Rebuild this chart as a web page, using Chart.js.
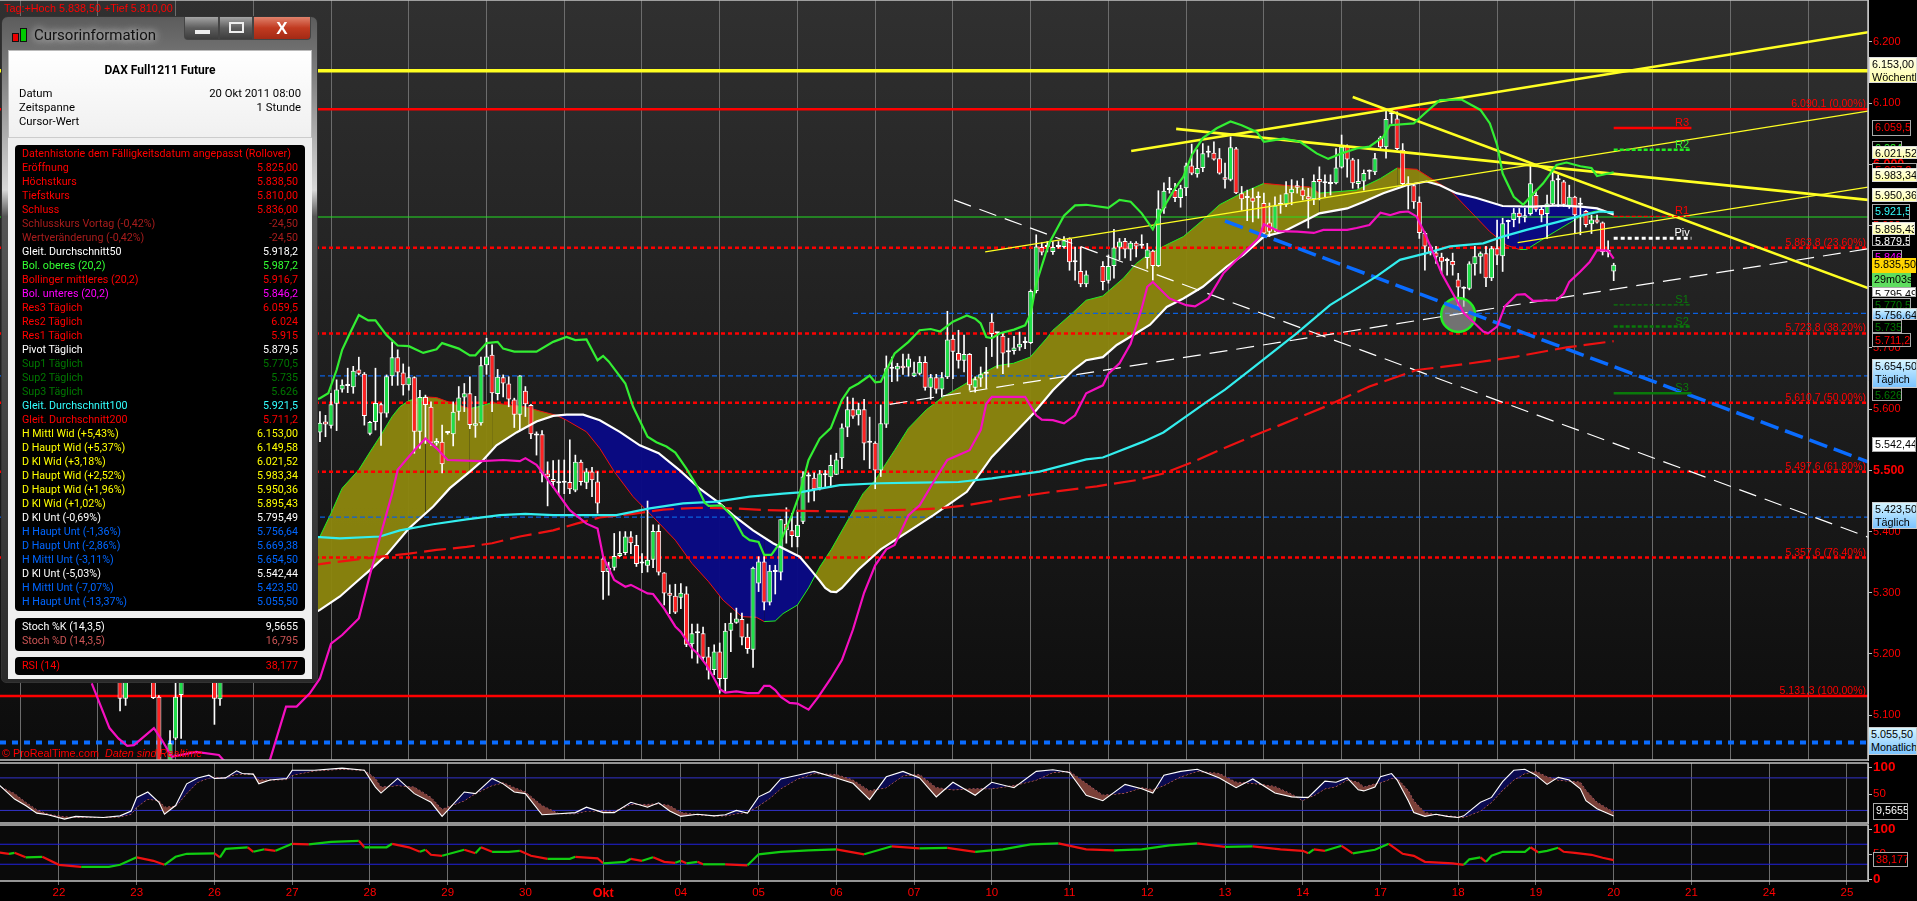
<!DOCTYPE html>
<html lang="de">
<head>
<meta charset="utf-8">
<title>DAX Full1211 Future</title>
<script src="https://cdn.jsdelivr.net/npm/chart.js@4/dist/chart.umd.js"></script>
<style>
    html, body { margin: 0; padding: 0; background: #000; overflow: hidden; }
    #stage { position: relative; width: 1917px; height: 901px; overflow: hidden; font-family: "Liberation Sans", Arial, sans-serif; }
    canvas { position: absolute; left: 0; }
    #mainChart { top: 0; }
    #stochChart { top: 755px; }
    #rsiChart { top: 820px; }
    .note { position: absolute; color: #f00; font-size: 10.8px; white-space: nowrap; }
    .tag { position: absolute; left: 1872px; box-sizing: border-box; padding-left: 2px; font-size: 10.8px; line-height: 13px; white-space: nowrap; overflow: hidden; color: #000; }
    .tag.dark { background: #000; border: 1px solid #aaa; }
    .tag.pale { background: linear-gradient(#ffffe6, #ffffa8); border: 1px solid #ddd; }
    .tag.sky { background: linear-gradient(#d4f4ff, #7cc4ff); border: 1px solid #ccc; }
    .tag.white { background: #fff; border: 1px solid #aaa; }
    .tag.gold { background: #ffd400; }
    .tag.timer { background: #5fdd5f; }
    #win { position: absolute; left: 1px; top: 16px; width: 317px; height: 667px; border-radius: 7px 7px 5px 5px; border: 1px solid #333; box-sizing: border-box;
           background: linear-gradient(#5c5c5c 0, #7c7c7c 8%, #d8d8d8 26%, #555 30%, #2a2a2a 100%); font-family: Roboto, sans-serif; font-size: 10.7px; }
    #win .abs { position: absolute; white-space: nowrap; }
    #winTitle { left: 32px; top: 9px; font-size: 15px; color: #111; text-shadow: 0 0 7px #ccc, 0 0 9px #ccc; }
    .btn { position: absolute; top: 0; height: 23px; border: 1px solid #444; border-top: 0; box-sizing: border-box; background: linear-gradient(#a5a5a5, #5d5d5d 50%, #3d3d3d); }
    #btnMin { left: 182px; width: 35px; border-radius: 0 0 0 4px; }
    #btnMin i { position: absolute; left: 10px; top: 13px; width: 15px; height: 4px; background: #eee; }
    #btnMax { left: 217px; width: 34px; }
    #btnMax i { position: absolute; left: 9px; top: 5px; width: 11px; height: 7px; border: 2px solid #eee; }
    #btnClose { left: 251px; width: 58px; border-radius: 0 0 4px 0; background: linear-gradient(#e0826c, #c13a20 50%, #a32a15); color: #fff; text-align: center; font: bold 17px/23px "Liberation Sans"; }
    #winHead { position: absolute; left: 6px; top: 33px; width: 304px; height: 88px; background: linear-gradient(#fff, #f0f0f0); border: 1px solid #bbb; border-bottom: 1px solid #ccc; box-sizing: border-box; color: #000; font-size: 11.3px; }
    #winBody { position: absolute; left: 6px; top: 121px; width: 304px; height: 541px; background: #efefef; }
    .panel { position: absolute; left: 7px; width: 290px; background: #000; border-radius: 4px; }
    .row { position: absolute; left: 7px; width: 276px; height: 14px; line-height: 14px; white-space: nowrap; }
    .row span { position: absolute; right: 0; }
    .candleIcon { position: absolute; width: 5px; border: 1px solid #111; }
</style>
</head>
<body>
<div id="stage">
    <canvas id="mainChart" width="1917" height="762"></canvas>
    <canvas id="stochChart" width="1917" height="72"></canvas>
    <canvas id="rsiChart" width="1917" height="81"></canvas>
    <div class="note" style="left:4px;top:2px">Tag:+Hoch 5.838,50 +Tief 5.810,00</div>
    <div class="note" style="left:2px;top:747px">© ProRealTime.com&nbsp; <i>Daten sind Realtime</i></div>
    <div id="tags"></div>
    <div id="win"></div>
</div>
<script>
// x positions are hourly bar numbers, 14 bars per trading day, bar 0 = 22 Sep 08:00
const dayLabels = ['22', '23', '26', '27', '28', '29', '30', 'Okt', '04', '05', '06', '07', '10', '11', '12', '13', '14', '17', '18', '19', '20', '21', '24', '25'];
const barsPerDay = 14;
const firstBar = 47;

const priceTicks = [6200, 6100, 6000, 5900, 5800, 5700, 5600, 5500, 5400, 5300, 5200, 5100];
const boldPriceTicks = [6000, 5500];

// candles from bar 47 to bar 280
const opens = [5562,5580,5573,5609,5632,5640,5636,5665,5658,5560,
    5579,5608,5593,5654,5685,5660,5639,5652,5563,5620,
    5604,5544,5547,5561,5559,5596,5619,5626,5573,5577,
    5672,5689,5625,5652,5642,5616,5591,5630,5607,5560,
    5559,5495,5486,5482,5480,5481,5467,5514,5480,5498,
    5482,5356,5334,5341,5360,5365,5392,5378,5348,5344,
    5354,5401,5333,5300,5295,5292,5299,5216,5234,5234,
    5196,5174,5204,5159,5238,5251,5257,5228,5207,5315,
    5351,5284,5334,5333,5413,5402,5391,5416,5490,5488,
    5471,5494,5489,5493,5520,5570,5600,5590,5600,5545,
    5545,5500,5575,5666,5665,5671,5668,5654,5658,5677,
    5635,5652,5632,5652,5715,5692,5679,5690,5635,5650,
    5658,5743,5724,5720,5695,5695,5701,5708,5708,5793,
    5865,5865,5857,5865,5865,5879,5840,5826,5804,null,
    null,5834,5810,5834,5864,5875,5861,5872,5868,5847,
    5859,5834,5928,5958,5958,5945,5961,5998,5984,5994,
    6019,6019,6010,5979,5975,6026,5953,5945,5946,5945,
    5937,5905,5893,5934,5934,5953,5966,5959,5948,5943,
    5976,5972,5968,5969,5995,6030,6008,5968,5972,5988,
    5987,6044,6028,6082,6075,6024,5966,5966,5939,5888,
    5866,5856,5849,5842,5842,5812,5797,5797,5837,5849,
    5855,5814,5863,5850,5906,5909,5921,5913,5919,5950,
    5927,5919,5935,5974,5972,5930,5947,5934,5924,5902,
    5910,5905,5857,5825];
const highs = [5596,5590,5626,5648,5648,5667,5670,5685,5660,5580,
    5667,5610,5656,5710,5697,5674,5669,5653,5631,5623,
    5612,5552,5574,5562,5612,5637,5642,5653,5621,5685,
    5716,5705,5665,5656,5653,5618,5655,5637,5608,5563,
    5565,5514,5516,5517,5517,5550,5525,5517,5503,5505,
    5498,5359,5350,5397,5400,5400,5400,5394,5364,5450,
    5411,5411,5333,5313,5314,5315,5310,5249,5249,5244,
    5211,5215,5218,5250,5267,5275,5267,5249,5342,5359,
    5359,5345,5345,5420,5439,5430,5435,5498,5496,5496,
    5500,5500,5525,5528,5576,5620,5618,5610,5616,5587,
    5547,5607,5687,5685,5675,5690,5690,5677,5686,5686,
    5657,5657,5660,5760,5721,5729,5721,5691,5653,5669,
    5701,5756,5724,5724,5716,5719,5726,5718,5795,5885,
    5872,5874,5874,5874,5882,5880,5865,5865,5826,null,
    null,5841,5852,5894,5879,5879,5874,5874,5885,5871,
    5860,5957,5970,5979,5969,5966,6002,6033,6024,6034,
    6030,6037,6026,6002,6045,6028,5964,5958,5961,5955,
    5953,5937,5947,5950,5972,5975,5973,5977,5961,5983,
    5996,5983,5983,6026,6048,6032,6010,6008,5991,5991,
    6018,6046,6088,6090,6086,6034,5980,5969,5947,5890,
    5868,5866,5855,5847,5855,5822,5800,5841,5866,5857,
    5866,5866,5909,5912,5909,5928,5928,5928,5997,5958,
    5931,5950,5991,5983,5974,5966,5948,5945,5925,5917,
    5917,5906,5875,5838.5];
const lows = [5547,5555,5569,5565,5628,5627,5626,5656,5574,5558,
    5566,5541,5587,5639,5639,5623,5631,5528,5536,5544,
    5541,5541,5496,5559,5540,5582,5596,5568,5554,5574,
    5657,5596,5615,5620,5604,5570,5565,5588,5552,5525,
    5481,5442,5472,5462,5462,5462,5465,5476,5470,5457,
    5430,5289,5296,5337,5359,5362,5364,5343,5333,5334,
    5341,5329,5280,5266,5266,5274,5212,5193,5185,5190,
    5159,5166,5136,5139,5204,5250,5215,5201,5178,5302,
    5272,5280,5298,5321,5381,5375,5375,5413,5448,5450,
    5468,5473,5473,5493,5503,5555,5585,5574,5517,5503,
    5470,5490,5570,5645,5646,5657,5654,5653,5656,5631,
    5616,5626,5620,5650,5650,5667,5661,5631,5628,5637,
    5634,5686,5667,5658,5669,5690,5696,5699,5707,5790,
    5852,5857,5853,5863,5863,5827,5811,5800,5800,null,
    null,5795,5806,5814,5844,5847,5843,5849,5863,5830,
    5811,5833,5920,5953,5939,5930,5949,5983,5979,5988,
    6012,6007,5984,5961,5973,5952,5925,5908,5906,5912,
    5882,5882,5890,5920,5931,5934,5953,5942,5896,5934,
    5942,5947,5950,5968,5994,5979,5961,5961,5958,5976,
    5983,6026,6010,6067,6024,5966,5927,5928,5879,5827,
    5852,5838,5822,5819,5819,5768,5768,5795,5819,5822,
    5800,5810,5836,5825,5879,5898,5904,5906,5917,5923,
    5906,5879,5934,5931,5931,5928,5887,5885,5898,5887,
    5904,5852,5849,5810];
const closes = [5578,5575,5608,5632,5640,5638,5663,5658,5589,5579,
    5610,5593,5654,5685,5660,5639,5652,5563,5620,5607,
    5545,5548,5510,5562,5596,5619,5626,5574,5577,5672,
    5686,5626,5653,5642,5616,5591,5655,5608,5559,5557,
    5495,5489,5481,5479,5480,5469,5514,5481,5498,5484,
    5446,5334,5341,5360,5365,5392,5381,5347,5348,5354,
    5401,5333,5299,5295,5268,5300,5215,5234,5234,5194,
    5173,5204,5159,5238,5251,5258,5227,5208,5341,5351,
    5284,5336,5334,5420,5402,5393,5411,5490,5490,5469,
    5495,5492,5509,5518,5570,5600,5588,5600,5544,5545,
    5500,5577,5667,5667,5671,5667,5683,5660,5677,5635,
    5652,5632,5652,5714,5694,5679,5690,5639,5649,5657,
    5658,5723,5724,5691,5693,5701,5707,5708,5793,5866,
    5856,5865,5865,5865,5876,5840,5840,5804,5820,null,
    null,5808,5834,5864,5874,5861,5872,5866,5867,5861,
    5834,5928,5957,5958,5945,5961,5998,5985,5994,6018,
    6019,6008,5985,5975,6028,5953,5943,5945,5939,5945,
    5887,5890,5933,5934,5953,5960,5962,5948,5943,5973,
    5971,5969,5968,5995,6029,6008,5969,5973,5986,5988,
    6010,6028,6074,6082,6025,5968,5966,5938,5888,5866,
    5855,5849,5841,5842,5835,5799,5797,5838,5850,5855,
    5814,5863,5851,5904,5906,5921,5914,5917,5969,5926,
    5917,5936,5974,5974,5934,5947,5917,5934,5901,5910,
    5905,5857,5860,5836];

// the few candles that show under the cursor window
const earlyBars = [11, 12, 17, 18, 20, 21, 22, 28, 29];
const earlyOpens = [5170, 5127, 5170, 5130, 5000, 5062, 5133, 5170, 5126];
const earlyHighs = [5180, 5180, 5180, 5132, 5075, 5180, 5180, 5180, 5180];
const earlyLows = [5107, 5116, 5127, 4990, 5000, 5060, 5062, 5085, 5116];
const earlyCloses = [5127, 5170, 5128, 5000, 5054, 5130, 5170, 5127, 5170];

const upperBars = [45,47,48.5,50,51,52.4,54,55.7,57,59,61,63,65.6,68,69,72,74,75,77,79,80,82,86,89,91.4,93,95,97,98,99,102,103.4,106,107.6,109.4,111,113,114.8,116.3,117,119.3,121.4,123.2,124.4,126,127,128.3,129.8,132,133.4,135,137,139,141,142.4,144,146,147,148,150.5,153,155,157,158.7,161,163.5,165,166,167,168,169.5,172,174,175,176,177.9,178.5,181,183,185,189,191,193,195,197,198.3,201,202.5,204,206,208.5,211,213,215.7,217,220.5,223.5,226.5,228.6,231,233.7,236,238.5,239.7,244,246.3,248.7,252.6,256,257.7,259,260,262,263.7,265,267.3,269.7,271.5,274,276,277,280];
const upperBand = [5612,5618,5626,5664,5697,5724,5754,5745,5745,5721,5704,5703,5692,5698,5708,5699,5688,5688,5708,5710,5699,5694,5694,5710,5718,5713,5714,5680,5687,5678,5642,5604,5555,5546,5539,5529,5503,5476,5447,5442,5443,5424,5394,5386,5383,5362,5362,5381,5427,5462,5517,5552,5569,5615,5634,5642,5655,5644,5645,5691,5710,5729,5731,5727,5743,5753,5748,5740,5718,5716,5724,5730,5737,5756,5805,5860,5874,5916,5933,5934,5929,5942,5939,5920,5894,5920,5961,5980,6015,6043,6059,6070,6064,6053,6037,6042,6037,6018,6009,6018,6026,6029,6045,6064,6067,6086,6105,6106,6089,6067,6032,5985,5947,5934,5947,5969,5999,6003,5997,5994,5981,5987.2];

const lowerBars = [5.9,9.1,10.7,12.3,13.5,17.1,18.7,20.3,24.7,28.8,29.6,33,38,40.9,42.8,45.2,47,49,51,54,56,58,60,61,64,66,68,70,76,80,83,84,86,89,92,95,97,98,100,102,103,106,107,109,111,112,114,115,116.6,118,119,120,122,124,126,127,128,129,130,131.6,133,135,136.7,139,141,143,145,147,149,150.5,153,155,157.5,160,164,166,167,168,174,176,177,179,181,183,185,188,189,191,193,195,196,197,200,203,204.6,207,209.7,213.3,216,217,219.6,223,226,227.7,232,233.7,236,238,239.7,241.5,243,244.5,246,247.5,249,252,253,255,256.5,257.4,259,260.4,262.5,264,265.5,269.7,271,272,274,275.7,277,279,280];
const lowerBand = [5152,5079,5062,5050,5051,5079,5057,5032,5040,5035,5027,5000,5027,5114,5114,5136,5160,5217,5231,5258,5329,5397,5462,5501,5533,5552,5536,5517,5515,5517,5515,5520,5509,5473,5435,5413,5405,5359,5321,5310,5313,5299,5298,5274,5245,5236,5209,5201,5182,5160,5143,5137,5139,5136,5136,5148,5148,5141,5130,5120,5119,5109,5129,5160,5190,5240,5300,5345,5371,5378,5427,5443,5481,5517,5533,5566,5609,5620,5620,5590,5583,5582,5577,5590,5626,5639,5658,5675,5707,5765,5800,5808,5781,5770,5768,5781,5822,5855,5879,5902,5891,5890,5888,5893,5893,5896,5901,5921,5917,5922,5923,5915,5887,5855,5822,5773,5757,5740,5727,5724,5735,5768,5787,5788,5777,5778,5789,5808,5825,5841,5860,5859,5846.2];

const ma50Bars = [45,47,50.6,53.6,56,59,63,67.4,70.4,74,76.4,78.8,82.4,86,89,91.4,94.4,97.4,101,104.6,108,111.8,115.4,119,121.4,125,128.6,133.4,135,137,138,139,140,141,144,148,157.5,163.5,168,175.5,179,182.7,185,188,190.5,194,196.5,199.5,202.5,206,210.3,213.3,217,220.5,225.3,227,232,235,238.5,242.7,246.3,248.7,251.7,255.3,260,265.5,270,274,277,280];
const ma50 = [5262,5272,5294,5318,5337,5362,5405,5441,5471,5498,5517,5541,5562,5580,5589,5591,5591,5582,5563,5541,5528,5500,5470,5446,5427,5402,5381,5359,5342,5320,5308,5302,5301,5308,5338,5371,5427,5465,5522,5593,5631,5664,5680,5685,5705,5724,5738,5767,5781,5800,5833,5852,5882,5890,5912,5920,5928,5939,5953,5966,5972,5966,5953,5945,5932,5931,5933,5931,5928,5918.2];

const midBars = [45,47,49,51,54,56,58,60,61.4,63,66,68,70.4,74,76,78,81,84,86.6,89.6,91.4,95,97.4,100,103.4,107,111,114,117,119.6,123,125.6,127,129,130.4,133,135,137,139.1,144.8,147,150.5,153,156.2,159.2,162.8,165.8,168.9,171.9,174.9,177.9,179,182.4,185,188,191.7,194,196.5,200,202.5,206,209,213,217,221.7,225.3,227,233.7,238,241,244.5,248,250.5,254,257.7,260.7,263,264.3,268.5,272,275,278,280];
const midBand = [5380,5392,5430,5471,5501,5530,5558,5588,5604,5614,5620,5619,5611,5601,5605,5611,5607,5604,5597,5590,5582,5563,5536,5498,5457,5424,5386,5348,5318,5288,5261,5260,5253,5254,5266,5280,5308,5342,5371,5462,5484,5533,5569,5599,5620,5639,5656,5671,5675,5685,5716,5729,5756,5778,5785,5814,5838,5855,5871,5882,5909,5934,5953,5969,5965,5963,5953,5958,5977,5994,5992,5972,5958,5925,5890,5868,5861,5861,5885,5904,5920,5926,5916.7];

const ma100Bars = [45,47,50.6,57.8,61.4,67.4,73.4,79.4,84,89,100.4,106.4,112.4,118.4,124.4,130.4,133.4,140.6,147.8,155,162,168,176.6,185,188,195.3,198.9,202.5,206.7,210,214.5,222.9,228.9,237.3,241.5,246.3,250.5,256.5,260,264.3,270,274.5,277.5,280];
const ma100 = [5391,5391,5389,5392,5402,5412,5420,5427,5429,5427,5427,5438,5446,5449,5457,5462,5464,5476,5479,5480,5481,5487,5498,5518,5521,5547,5562,5585,5612,5632,5664,5724,5770,5817,5844,5855,5866,5871,5882,5893,5906,5917,5923,5921.5];

const ma200Bars = [45,47,52.4,57.8,63,68,73.4,78,83,89,93.2,97.4,103.4,108.8,115.4,121.4,127.4,133.4,141.8,153.9,158.6,163.4,171.9,179,186.9,194,198.9,204.3,209,213.9,219.9,228,236,244.5,253.5,262.5,271.5,280];
const ma200 = [5346,5347,5353,5359,5364,5370,5375,5381,5392,5402,5413,5423,5429,5436,5439,5438,5435,5434,5433,5436,5438,5443,5456,5465,5474,5484,5495,5514,5533,5552,5574,5604,5637,5664,5674,5686,5701,5711.2];

// horizontal levels
const fibLevels = [5863.8, 5723.8, 5610.7, 5497.6, 5357.6];
const fibSolid = [6090.1, 5131.3];
const fibTexts = ['6.090,1 (0,00%)', '5.863,8 (23,60%)', '5.723,8 (38,20%)', '5.610,7 (50,00%)', '5.497,6 (61,80%)', '5.357,6 (76,40%)', '5.131,3 (100,00%)'];
const fibTextLevels = [6090.1, 5863.8, 5723.8, 5610.7, 5497.6, 5357.6, 5131.3];
const weeklyLevel = 6153;
const res1Line = 5914;
const monthlyLevel = 5055.5;
const blueLevels = [5654.5, 5423.5];
const blueShortLevel = 5756.64;
const blueShortFrom = 143;

const pivotNames = ['R3', 'R2', 'R1', 'Piv', 'S1', 'S2', 'S3'];
const pivotLevels = [6059.5, 6024, 5915, 5879.5, 5770.5, 5735, 5626];

// trend lines as [bar, price] pairs
const yellowThick = [[[193.1, 6022], [325.8, 6216]], [[201.2, 6058], [325.8, 5942]], [[233, 6110], [325.8, 5798]]];
const yellowThin = [[[166.8, 5857], [325.8, 6087]], [[262.7, 5872], [325.8, 5963]]];
const whiteDashed = [[[161.2, 5942], [325.8, 5391]], [[149.6, 5608], [325.8, 5862]]];
const blueDashed = [[210, 5907.5], [325.8, 5514]];
const marker = [[252, 5754]];

const stochBars = [-11,-8,-6,-4,-2,1,3,8,11,13,14,16,18,19,21,23,25,27,28,30,32,33,35,36,38,41,42,46,51,55,57,58,61,64,67,69,73,75,78,80,82,84,87,90,93,95,98,100,103,106,108,110,112,115,118,120,122,124,126,128,130,133,136,140,143,146,149,152,155,158,161,165,168,172,176,179,182,185,188,192,195,197,199,202,205,209,212,215,219,222,224,225,226,228,230,232,234,235,237,238,240,241,243,244,246,248,250,252,253,256,258,260,262,264,266,268,270,272,274,275,277,280];
const stochK = [69,41,29,15,12,4,9,7,10,19,44,54,35,13,29,69,80,85,79,80,93,88,87,69,76,79,94,94,98,94,63,52,79,51,35,9,54,51,79,69,54,51,12,14,16,26,16,16,35,26,34,19,9,13,10,12,20,15,45,55,78,85,92,80,70,40,82,92,80,45,72,48,72,62,92,95,90,48,38,68,60,52,85,92,96,80,62,78,52,45,44,44,54,74,72,80,58,56,63,82,88,76,38,16,9,13,9,7,10,35,44,73,94,96,85,68,81,76,60,38,23,9.57];
const stochD = [66,51,35,21,13,8,7,7,8,13,26,41,38,26,27,51,72,80,81,80,87,87,87,76,76,77,85,93,96,94,79,63,66,63,44,22,38,51,66,71,62,54,29,14,14,19,19,18,31,31,32,29,16,12,10,10,14,16,28,42,60,78,88,86,76,56,62,84,86,62,58,60,60,66,76,90,92,70,48,52,62,58,66,82,92,88,72,70,64,50,38,44,47,60,64,76,72,63,69,71,79,79,57,38,16,12,10,8,7,19,35,57,76,88,92,82,76,74,72,57,35,16.8];

const rsiBars = [-11,-9,-8,-6,-3,0,4,9,11,14,17,19,21,23,28,29,30,34,35,37,39,42,45,49,54,55,59,60,63,65,66,67,69,73,75,76,78,81,83,85,88,92,93,97,98,102,103,105,107,109,111,112,113,115,116,120,124,126,130,135,140,145,150,155,160,165,170,175,180,185,190,195,200,205,210,215,220,224,225,226,228,231,233,237,239.5,242,244,246,251,253,254,256,257,258,260,264,265,266.4,268,270,271,273,276,278,280];
const rsiVals = [54,51,53,44,45,29,25,25,29,44,37,29,45,51,52,44,61,64,55,60,57,71,70,75,77,64,64,71,64,55,59,49,47,59,52,64,55,55,57,47,41,41,45,42,32,35,41,37,44,35,33,37,32,35,30,30,28,50,55,58,60,50,66,62,63,55,60,70,72,60,58,60,68,72,65,66,60,57,52,60,57,67,52,59,71,51,47,35,32,29,40,44,35,47,55,55,64,54,57,63,55,53,49,43,38.2];

const stochTicks = [100, 50];
const stochLines = [80, 20];
const rsiTicks = [100, 50, 0];
const rsiLines = [70, 30];

const cursorRows = [
    ['Datenhistorie dem Fälligkeitsdatum angepasst (Rollover)', '', '#ff0000'],
    ['Eröffnung', '5.825,00', '#ff0000'], ['Höchstkurs', '5.838,50', '#ff0000'], ['Tiefstkurs', '5.810,00', '#ff0000'], ['Schluss', '5.836,00', '#ff0000'],
    ['Schlusskurs Vortag (-0,42%)', '-24,50', '#a81c1c'], ['Wertveränderung (-0,42%)', '-24,50', '#a81c1c'],
    ['Gleit. Durchschnitt50', '5.918,2', '#ffffff'], ['Bol. oberes (20,2)', '5.987,2', '#33ff33'], ['Bollinger mittleres (20,2)', '5.916,7', '#ff0000'], ['Bol. unteres (20,2)', '5.846,2', '#ff00ff'],
    ['Res3 Täglich', '6.059,5', '#ff0000'], ['Res2 Täglich', '6.024', '#ff0000'], ['Res1 Täglich', '5.915', '#ff0000'], ['Pivot Täglich', '5.879,5', '#ffffff'],
    ['Sup1 Täglich', '5.770,5', '#007700'], ['Sup2 Täglich', '5.735', '#007700'], ['Sup3 Täglich', '5.626', '#007700'],
    ['Gleit. Durchschnitt100', '5.921,5', '#33ffff'], ['Gleit. Durchschnitt200', '5.711,2', '#ff0000'],
    ['H Mittl Wid (+5,43%)', '6.153,00', '#ffff00'], ['D Haupt Wid (+5,37%)', '6.149,58', '#ffff00'], ['D Kl Wid (+3,18%)', '6.021,52', '#ffff00'], ['D Haupt Wid (+2,52%)', '5.983,34', '#ffff00'], ['D Haupt Wid (+1,96%)', '5.950,36', '#ffff00'], ['D Kl Wid (+1,02%)', '5.895,43', '#ffff00'],
    ['D Kl Unt (-0,69%)', '5.795,49', '#ffffff'], ['H Haupt Unt (-1,36%)', '5.756,64', '#0066ff'], ['D Haupt Unt (-2,86%)', '5.669,38', '#0066ff'], ['H Mittl Unt (-3,11%)', '5.654,50', '#0066ff'],
    ['D Kl Unt (-5,03%)', '5.542,44', '#ffffff'], ['H Mittl Unt (-7,07%)', '5.423,50', '#0066ff'], ['H Haupt Unt (-13,37%)', '5.055,50', '#0066ff']
];
const stochRows = [['Stoch %K (14,3,5)', '9,5655', '#ffffff'], ['Stoch %D (14,3,5)', '16,795', '#cc5555']];
const rsiRows = [['RSI (14)', '38,177', '#ff0000']];

const priceTags = [
    { t: 141, w: 30, h: 16, c: 'dark', col: '#33ee33', s: '6.024' },
    { t: 163, w: 45, h: 16, c: 'dark', col: '#ff0000', s: '5.987,2' },
    { t: 120, w: 39, h: 16, c: 'dark', col: '#ff0000', s: '6.059,5' },
    { t: 146, w: 45, h: 13, c: 'pale', s: '6.021,52' },
    { t: 168, w: 45, h: 14, c: 'pale', s: '5.983,34' },
    { t: 188, w: 45, h: 14, c: 'pale', s: '5.950,36' },
    { t: 204, w: 38, h: 16, c: 'dark', col: '#33ffff', s: '5.921,5' },
    { t: 234, w: 38, h: 12, c: 'dark', col: '#ffffff', s: '5.879,5' },
    { t: 222, w: 43, h: 13, c: 'pale', s: '5.895,43' },
    { t: 250, w: 30, h: 10, c: 'dark', col: '#ff00ff', s: '5.846' },
    { t: 258, w: 44, h: 15, c: 'gold', s: '5.835,50' },
    { t: 273, w: 39, h: 14, c: 'timer', s: '29m03s' },
    { t: 287, w: 44, h: 10, c: 'white', s: '5.795,49' },
    { t: 298, w: 39, h: 11, c: 'dark', col: '#007700', s: '5.770,5' },
    { t: 308, w: 45, h: 12, c: 'sky', s: '5.756,64' },
    { t: 320, w: 30, h: 13, c: 'dark', col: '#007700', s: '5.735' },
    { t: 333, w: 39, h: 14, c: 'dark', col: '#ff0000', s: '5.711,2' },
    { t: 359, w: 45, h: 29, c: 'sky', s: '5.654,50<br>Täglich' },
    { t: 388, w: 30, h: 13, c: 'dark', col: '#007700', s: '5.626' },
    { t: 437, w: 44, h: 15, c: 'white', s: '5.542,44' },
    { t: 502, w: 45, h: 27, c: 'sky', s: '5.423,50<br>Täglich' },
    { t: 57, l: 1869, w: 48, h: 26, c: 'pale', s: '6.153,00<br>Wöchentlich' },
    { t: 727, l: 1868, w: 49, h: 28, c: 'sky', s: '5.055,50<br>Monatlich' },
    { t: 803, l: 1873, w: 35, h: 17, c: 'dark', col: '#ffffff', s: '9,5655' },
    { t: 852, l: 1873, w: 35, h: 15, c: 'dark', col: '#ff0000', s: '38,177' }
];

const rowHtml = (r, top) => `<div class="row" style="top:${top}px;color:${r[2]}">${r[0]}<span>${r[1]}</span></div>`;

const windowView = () => `
    <div class="candleIcon" style="left:10px;top:16px;height:7px;background:#e00"></div>
    <div class="candleIcon" style="left:18px;top:11px;height:12px;background:#0c0"></div>
    <div id="winTitle" class="abs">Cursorinformation</div>
    <div id="btnMin" class="btn"><i></i></div>
    <div id="btnMax" class="btn"><i></i></div>
    <div id="btnClose" class="btn">X</div>
    <div id="winHead">
        <div class="abs" style="left:0;width:100%;top:12px;text-align:center;font-weight:bold;font-size:12px">DAX Full1211 Future</div>
        <div class="abs" style="left:10px;top:36px">Datum</div><div class="abs" style="right:10px;top:36px">20 Okt 2011 08:00</div>
        <div class="abs" style="left:10px;top:50px">Zeitspanne</div><div class="abs" style="right:10px;top:50px">1 Stunde</div>
        <div class="abs" style="left:10px;top:64px">Cursor-Wert</div>
    </div>
    <div id="winBody">
        <div class="panel" style="top:7px;height:466px">${cursorRows.map((r, i) => rowHtml(r, 2 + i * 14)).join('')}</div>
        <div class="panel" style="top:480px;height:33px">${stochRows.map((r, i) => rowHtml(r, 2 + i * 14)).join('')}</div>
        <div class="panel" style="top:519px;height:18px">${rsiRows.map((r, i) => rowHtml(r, 2 + i * 14)).join('')}</div>
    </div>`;

document.getElementById('win').innerHTML = windowView();
document.getElementById('tags').innerHTML = priceTags.map(g => `
    <div class="tag ${g.c}" style="top:${g.t}px;left:${g.l || 1872}px;width:${g.w}px;height:${g.h}px;color:${g.col || '#000'}">${g.s}</div>`).join('');

// ---- shared options ----
const rightMargin = 49;
const xMin = -10.62;
const xMax = 325.8;
const dayBars = dayLabels.map((d, i) => i * barsPerDay);

const xAxis = (showLabels) => ({
    type: 'linear',
    offset: false,
    min: xMin,
    max: xMax,
    afterBuildTicks: ax => { ax.ticks = dayBars.map(v => ({ value: v })); },
    afterFit: ax => { ax.height = showLabels ? 20 : 0; ax.paddingLeft = 0; ax.paddingRight = 0; },
    border: { display: false },
    grid: { color: '#6c6c6c', lineWidth: 1, drawTicks: showLabels, tickLength: 4 },
    ticks: {
        display: showLabels,
        autoSkip: false,
        maxRotation: 0,
        padding: 1,
        color: '#ff0000',
        font: ctx => ctx.tick && ctx.tick.value === 7 * barsPerDay
            ? { family: 'Liberation Sans', size: 12.5, weight: 'bold' }
            : { family: 'Liberation Sans', size: 11.5 },
        callback: v => dayLabels[v / barsPerDay]
    }
});

const yAxis = (min, max, ticks, fontOf, format) => ({
    position: 'right',
    min,
    max,
    afterBuildTicks: ax => { ax.ticks = ticks.map(v => ({ value: v })); },
    afterFit: ax => { ax.width = rightMargin; ax.paddingTop = 0; ax.paddingBottom = 0; },
    border: { color: '#bbbbbb' },
    grid: { drawOnChartArea: false, color: '#bbbbbb', tickLength: 4 },
    ticks: { color: '#ff0000', padding: 1, autoSkip: false, font: ctx => fontOf(ctx.tick ? ctx.tick.value : 0), callback: format }
});

const panelBackground = (top, bottom) => ({
    id: 'panelBackground',
    beforeDraw(chart) {
        const { ctx, chartArea: a } = chart;
        const g = ctx.createLinearGradient(0, a.top, 0, a.bottom);
        g.addColorStop(0, top);
        g.addColorStop(1, bottom);
        ctx.save();
        ctx.fillStyle = g;
        ctx.fillRect(a.left, a.top, a.right - a.left, a.bottom - a.top);
        ctx.restore();
    },
    afterDraw(chart) {
        const { ctx, chartArea: a } = chart;
        ctx.save();
        ctx.strokeStyle = '#c4c4c4';
        ctx.lineWidth = 1.5;
        ctx.strokeRect(a.left - 2, a.top, a.right - a.left + 2, a.bottom - a.top);
        ctx.restore();
    }
});

const pts = (bars, vals) => bars.map((b, i) => ({ x: b, y: vals[i] }));
const span = pairs => pairs.map(p => ({ x: p[0], y: p[1] }));
const level = (v, from = xMin, to = xMax) => [{ x: from, y: v }, { x: to, y: v }];

const lineSet = (data, color, width, dash, order, extra = {}) => ({
    type: 'line', data, borderColor: color, borderWidth: width, borderDash: dash || [],
    pointRadius: 0, tension: 0, fill: false, order, ...extra
});

const upDown = (up, down) => ({ borderColor: c => c.p1.parsed.y >= c.p0.parsed.y ? up : down });

const baseOptions = (padTop, padBottom, scales) => ({
    responsive: false,
    animation: false,
    devicePixelRatio: 1,
    layout: { autoPadding: false, padding: { top: padTop, bottom: padBottom, left: 0, right: 0 } },
    plugins: { legend: { display: false }, tooltip: { enabled: false } },
    events: [],
    scales
});

// ---- candles ----
const barRows = [];
earlyBars.forEach((b, i) => barRows.push({ b, o: earlyOpens[i], h: earlyHighs[i], l: earlyLows[i], c: earlyCloses[i] }));
opens.forEach((o, i) => {
    if (o !== null) barRows.push({ b: firstBar + i, o, h: highs[i], l: lows[i], c: closes[i] });
});

const wickSet = {
    type: 'bar', grouped: false, barThickness: 1, backgroundColor: '#ffffff', order: 10,
    data: barRows.map(r => ({ x: r.b, y: [r.l, r.h] }))
};
const bodySet = {
    type: 'bar', grouped: false, barThickness: 5, minBarLength: 2, borderWidth: 1, borderColor: '#ffffff', borderSkipped: false, inflateAmount: 0, order: 9,
    backgroundColor: barRows.map(r => r.c >= r.o ? '#1fe04a' : '#ff2222'),
    data: barRows.map(r => ({ x: r.b, y: [r.o, r.c] }))
};

// the price chart labels that sit on the levels
const levelTexts = {
    id: 'levelTexts',
    afterDatasetsDraw(chart) {
        const { ctx, scales: { x, y }, chartArea: a } = chart;
        ctx.save();
        ctx.font = '10.5px "Liberation Sans"';
        ctx.fillStyle = '#ff0000';
        ctx.textAlign = 'right';
        fibTexts.forEach((s, i) => ctx.fillText(s, a.right - 2, y.getPixelForValue(fibTextLevels[i]) - 2));
        ctx.textAlign = 'center';
        const pivotTextColors = ['#ff0000', '#33ee33', '#ff0000', '#ffffff', '#0a7a0a', '#0a7a0a', '#0a7a0a'];
        pivotNames.forEach((s, i) => {
            ctx.fillStyle = pivotTextColors[i];
            ctx.font = '11px "Liberation Sans"';
            ctx.fillText(s, x.getPixelForValue(20.88 * barsPerDay), y.getPixelForValue(pivotLevels[i]) - 2);
        });
        ctx.restore();
    }
};

const pivotFrom = 20 * barsPerDay;
const pivotTo = 21 * barsPerDay;

new Chart(document.getElementById('mainChart'), {
    type: 'bar',
    data: {
        datasets: [
            // dataset 0 fills up to ma50, dataset 1
            lineSet(pts(midBars, midBand), '#ee1111', 1, null, 20, {
                fill: { target: 1, above: 'rgba(139,133,14,0.96)', below: 'rgba(10,10,132,0.98)' },
                segment: upDown('#22ee22', '#ee1111')
            }),
            lineSet(pts(ma50Bars, ma50), '#ffffff', 2.2, null, 6),
            wickSet,
            bodySet,
            lineSet(level(res1Line), '#22dd22', 1.2, null, 13),
            lineSet(level(weeklyLevel), '#ffff22', 3.5, null, 5),
            ...fibSolid.map(v => lineSet(level(v), '#ff0000', 2.5, null, 12)),
            ...fibLevels.map(v => lineSet(level(v), '#ff0000', 2.5, [4, 3], 12)),
            ...blueLevels.map(v => lineSet(level(v), '#0a60e0', 1.2, [5, 3], 12)),
            lineSet(level(blueShortLevel, blueShortFrom), '#0a60e0', 1.2, [5, 3], 12),
            lineSet(level(monthlyLevel), '#0a6cff', 4, [6, 6], 12),
            lineSet(span(marker), 'transparent', 0, null, 7, { pointRadius: 17, pointBackgroundColor: 'rgba(165,165,165,0.62)', pointBorderColor: '#22ee22', pointBorderWidth: 2.5, showLine: false }),
            ...yellowThick.map(t => lineSet(span(t), '#ffff22', 2.6, null, 5)),
            ...yellowThin.map(t => lineSet(span(t), '#ffff22', 1.3, null, 5)),
            ...whiteDashed.map(t => lineSet(span(t), '#ffffff', 1.2, [18, 9], 5)),
            lineSet(span(blueDashed), '#0a6cff', 3.5, [19, 7], 5),
            lineSet(pts(upperBars, upperBand), '#33ee33', 2.2, null, 4),
            lineSet(pts(lowerBars, lowerBand), '#f50fc0', 2.2, null, 4),
            lineSet(pts(ma100Bars, ma100), '#33eeee', 2.2, null, 4),
            lineSet(pts(ma200Bars, ma200), '#ee1111', 2.2, [22, 7], 4),
            lineSet(level(pivotLevels[0], pivotFrom, pivotTo), '#ff0000', 2.5, null, 3),
            lineSet(level(pivotLevels[1], pivotFrom, pivotTo), '#22ee22', 2.5, [4, 2], 3),
            lineSet(level(pivotLevels[2], pivotFrom, pivotTo), '#ff0000', 1.2, [4, 2], 3),
            lineSet(level(pivotLevels[3], pivotFrom, pivotTo), '#ffffff', 3, [4, 3], 3),
            lineSet(level(pivotLevels[4], pivotFrom, pivotTo), '#0a7a0a', 1.2, [4, 2], 3),
            lineSet(level(pivotLevels[5], pivotFrom, pivotTo), '#0a7a0a', 2.5, [4, 2], 3),
            lineSet(level(pivotLevels[6], pivotFrom, pivotTo), '#0a7a0a', 2.5, null, 3)
        ]
    },
    options: baseOptions(0, 2, {
        x: xAxis(false),
        y: yAxis(5026.8, 6268.6, priceTicks,
            v => boldPriceTicks.includes(v) ? { family: 'Liberation Sans', size: 12.5, weight: 'bold' } : { family: 'Liberation Sans', size: 11 },
            v => `${Math.floor(v / 1000)}.${String(v % 1000).padStart(3, '0')}`)
    }),
    plugins: [panelBackground('#303030', '#0c0c0c'), levelTexts]
});

const indicatorFont = v => v === 50
    ? { family: 'Liberation Sans', size: 11.5 }
    : { family: 'Liberation Sans', size: 13.5, weight: 'bold' };

new Chart(document.getElementById('stochChart'), {
    type: 'line',
    data: {
        datasets: [
            lineSet(pts(stochBars, stochK), '#ffffff', 1.1, null, 5, { fill: { target: 1, above: '#0a0a50', below: '#7a4038' } }),
            lineSet(pts(stochBars, stochD), '#e07070', 1, [2, 2], 6),
            ...stochLines.map(v => lineSet(level(v), '#3333cc', 1, null, 8))
        ]
    },
    options: baseOptions(8, 4, { x: xAxis(false), y: yAxis(-3.2, 107.5, stochTicks, indicatorFont, v => String(v)) }),
    plugins: [panelBackground('#0a0a0a', '#0a0a0a')]
});

new Chart(document.getElementById('rsiChart'), {
    type: 'line',
    data: {
        datasets: [
            lineSet(pts(rsiBars, rsiVals), '#ee1111', 2.2, null, 5, { segment: upDown('#11cc11', '#ee1111') }),
            ...rsiLines.map(v => lineSet(level(v), '#2222dd', 1.1, null, 8))
        ]
    },
    options: baseOptions(5, 0, { x: xAxis(true), y: yAxis(-3.4, 108.6, rsiTicks, indicatorFont, v => String(v)) }),
    plugins: [panelBackground('#0a0a0a', '#0a0a0a')]
});
</script>
</body>
</html>
